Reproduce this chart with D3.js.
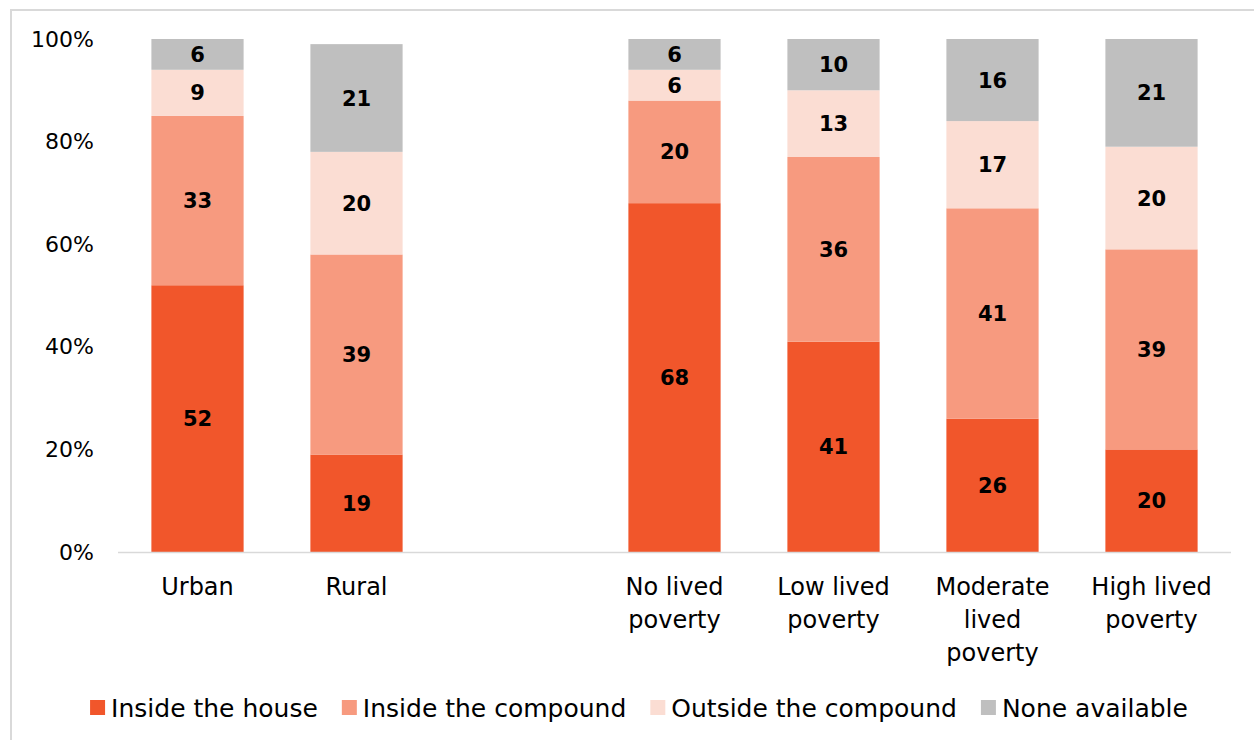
<!DOCTYPE html>
<html>
<head>
<meta charset="utf-8">
<script src="https://cdn.jsdelivr.net/npm/d3@7"></script>
<style>
  body { margin: 0; background: #fff; }
  svg { font-family: "DejaVu Sans", sans-serif; }
</style>
</head>
<body>
<div class="chart"></div>
<script>
// data
const categories = ['Urban', 'Rural', '', 'No lived poverty', 'Low lived poverty', 'Moderate lived poverty', 'High lived poverty'];
const catLines = [['Urban'], ['Rural'], [], ['No lived', 'poverty'], ['Low lived', 'poverty'], ['Moderate', 'lived', 'poverty'], ['High lived', 'poverty']];
const seriesNames = ['Inside the house', 'Inside the compound', 'Outside the compound', 'None available'];
const insideHouse = [52, 19, null, 68, 41, 26, 20];
const insideCompound = [33, 39, null, 20, 36, 41, 39];
const outsideCompound = [9, 20, null, 6, 13, 17, 20];
const noneAvailable = [6, 21, null, 6, 10, 16, 21];
const yTicks = [0, 20, 40, 60, 80, 100];
const colors = ['#F1562B', '#F79A7F', '#FBDDD3', '#BFBFBF'];

const width = 1254, height = 740;
const margin = { top: 39, left: 118, right: 23, bottom: 188 };

const svg = d3.select('.chart').append('svg')
  .attr('width', width)
  .attr('height', height);

// outer frame
svg.append('rect')
  .attr('x', 11).attr('y', 10)
  .attr('width', width + 20).attr('height', height + 20)
  .attr('fill', 'none')
  .attr('stroke', '#D9D9D9')
  .attr('stroke-width', 2);

const x = d3.scaleBand()
  .domain(categories.map((d, i) => i))
  .range([margin.left, width - margin.right])
  .paddingInner(0.42)
  .paddingOuter(0.21);

const y = d3.scaleLinear()
  .domain([0, 100])
  .range([height - margin.bottom, margin.top]);

// y axis labels
const yAxis = svg.append('g')
  .attr('transform', `translate(${margin.left - 24}, 0)`)
  .call(d3.axisLeft(y).tickValues(yTicks).tickFormat(d => d + '%').tickSize(0).tickPadding(0));
yAxis.select('.domain').remove();
yAxis.selectAll('text')
  .style('font-size', '22px')
  .style('fill', '#000')
  .style('font-family', '"DejaVu Sans", sans-serif');

// stack
const rows = categories.map((c, i) => ({
  i: i,
  s0: insideHouse[i], s1: insideCompound[i], s2: outsideCompound[i], s3: noneAvailable[i]
})).filter(d => d.s0 != null);

const stack = d3.stack().keys(['s0', 's1', 's2', 's3']);
const layers = stack(rows);

const g = svg.append('g');
layers.forEach((layer, k) => {
  g.selectAll(null)
    .data(layer)
    .join('rect')
    .attr('x', d => x(d.data.i))
    .attr('width', x.bandwidth())
    .attr('y', d => y(d[1]))
    .attr('height', d => y(d[0]) - y(d[1]))
    .attr('fill', colors[k]);

  g.selectAll(null)
    .data(layer)
    .join('text')
    .attr('x', d => x(d.data.i) + x.bandwidth() / 2)
    .attr('y', d => (y(d[0]) + y(d[1])) / 2)
    .attr('dy', '0.36em')
    .attr('text-anchor', 'middle')
    .style('font-size', '21px')
    .style('font-weight', 'bold')
    .style('fill', '#000')
    .text(d => d[1] - d[0]);
});

// x axis baseline
svg.append('line')
  .attr('x1', margin.left).attr('x2', width - margin.right)
  .attr('y1', y(0) + 0.5).attr('y2', y(0) + 0.5)
  .attr('stroke', '#D9D9D9')
  .attr('stroke-width', 1.5);

// category labels
catLines.forEach((lines, i) => {
  const t = svg.append('text')
    .attr('x', x(i) + x.bandwidth() / 2)
    .attr('y', 595)
    .attr('text-anchor', 'middle')
    .style('font-size', '24px')
    .style('fill', '#000');
  lines.forEach((l, j) => {
    t.append('tspan')
      .attr('x', x(i) + x.bandwidth() / 2)
      .attr('dy', j === 0 ? 0 : 33)
      .text(l);
  });
});

// legend
const gap = 24;
const legend = svg.append('g').attr('transform', 'translate(0, 708)');
let lx = 0;
const items = legend.selectAll('g')
  .data(seriesNames)
  .join('g');
items.append('rect')
  .attr('y', -8)
  .attr('width', 15).attr('height', 15)
  .attr('fill', (d, i) => colors[i]);
items.append('text')
  .attr('x', 21)
  .attr('dy', '0.36em')
  .style('font-size', '25px')
  .style('fill', '#000')
  .text(d => d);
items.each(function() {
  const w = this.getBBox().width;
  d3.select(this).attr('transform', `translate(${lx}, 0)`);
  lx += w + gap;
});
const total = lx - gap;
legend.attr('transform', `translate(${(width - total) / 2 + 12}, 708)`);
</script>
</body>
</html>
